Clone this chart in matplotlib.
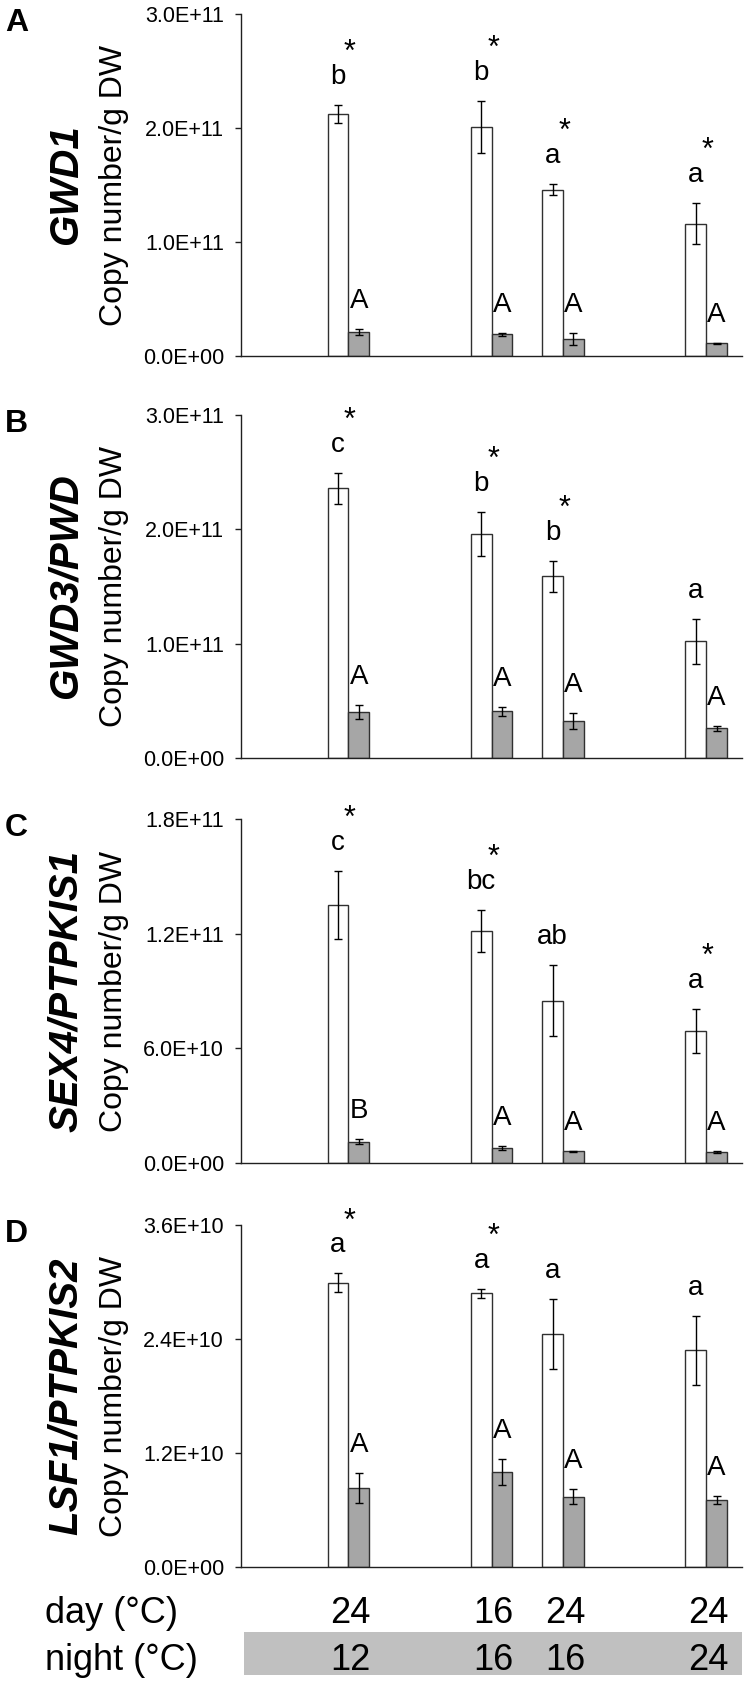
import matplotlib
matplotlib.use('Agg')
import matplotlib.pyplot as plt
import numpy as np

plt.rcParams['font.family'] = ['Liberation Sans', 'DejaVu Sans']

# %%
# data
positions = [1, 3, 4, 6]          # category slots on a 7-slot axis
day_temp = ['24', '16', '24', '24']
night_temp = ['12', '16', '16', '24']

genes = ['GWD1', 'GWD3/PWD', 'SEX4/PTPKIS1', 'LSF1/PTPKIS2']
panel_ids = ['A', 'B', 'C', 'D']
ymax = [3.0e11, 3.0e11, 1.8e11, 3.6e10]
ystep = [1.0e11, 1.0e11, 6.0e10, 1.2e10]

gwd1_open = [2.12e11, 2.01e11, 1.46e11, 1.16e11]
gwd1_open_err = [0.08e11, 0.23e11, 0.05e11, 0.18e11]
gwd1_fill = [0.21e11, 0.19e11, 0.15e11, 0.11e11]
gwd1_fill_err = [0.025e11, 0.015e11, 0.055e11, 0.005e11]

gwd3_open = [2.36e11, 1.96e11, 1.59e11, 1.02e11]
gwd3_open_err = [0.135e11, 0.19e11, 0.135e11, 0.195e11]
gwd3_fill = [0.40e11, 0.41e11, 0.32e11, 0.26e11]
gwd3_fill_err = [0.062e11, 0.04e11, 0.07e11, 0.02e11]

sex4_open = [1.35e11, 1.215e11, 0.85e11, 0.69e11]
sex4_open_err = [0.18e11, 0.11e11, 0.187e11, 0.117e11]
sex4_fill = [0.11e11, 0.08e11, 0.061e11, 0.056e11]
sex4_fill_err = [0.013e11, 0.01e11, 0.003e11, 0.006e11]

lsf1_open = [2.99e10, 2.88e10, 2.45e10, 2.28e10]
lsf1_open_err = [0.10e10, 0.045e10, 0.37e10, 0.36e10]
lsf1_fill = [0.83e10, 1.00e10, 0.74e10, 0.705e10]
lsf1_fill_err = [0.16e10, 0.14e10, 0.08e10, 0.045e10]

open_letters = [['b', 'b', 'a', 'a'], ['c', 'b', 'b', 'a'],
                ['c', 'bc', 'ab', 'a'], ['a', 'a', 'a', 'a']]
fill_letters = [['A', 'A', 'A', 'A'], ['A', 'A', 'A', 'A'],
                ['B', 'A', 'A', 'A'], ['A', 'A', 'A', 'A']]
stars = [[1, 1, 1, 1], [1, 1, 1, 0], [1, 1, 0, 1], [1, 1, 0, 0]]

opens = [gwd1_open, gwd3_open, sex4_open, lsf1_open]
open_errs = [gwd1_open_err, gwd3_open_err, sex4_open_err, lsf1_open_err]
fills = [gwd1_fill, gwd3_fill, sex4_fill, lsf1_fill]
fill_errs = [gwd1_fill_err, gwd3_fill_err, sex4_fill_err, lsf1_fill_err]

# %%
W, H = 747, 1682
fig = plt.figure(figsize=(W / 100, H / 100), dpi=100)
PT = 0.72   # pixels -> points at 100 dpi

ax_left, ax_right = 241, 742
tops = [14, 415, 819, 1225]
bottoms = [356, 758, 1163, 1567]
bw = 0.29

def fx(px):
    return px / W

def fy(px):
    return 1 - px / H

err_kw = dict(ecolor='black', elinewidth=1.0, capsize=3, capthick=1.0)

for i in range(4):
    ax = fig.add_axes([fx(ax_left), fy(bottoms[i]), fx(ax_right - ax_left),
                       (bottoms[i] - tops[i]) / H])
    x = np.array(positions, dtype=float)
    ax.bar(x - bw / 2, opens[i], bw, yerr=open_errs[i], color='white',
           edgecolor='#303030', linewidth=1.0, error_kw=err_kw, zorder=2)
    ax.bar(x + bw / 2, fills[i], bw, yerr=fill_errs[i], color='#a6a6a6',
           edgecolor='#303030', linewidth=1.0, error_kw=err_kw, zorder=2)

    for j in range(4):
        top_o = opens[i][j] + open_errs[i][j]
        ax.annotate(open_letters[i][j], (x[j] - bw / 2, top_o),
                    xytext=(0, 21 * PT), textcoords='offset points',
                    ha='center', va='baseline', fontsize=20)
        if stars[i][j]:
            ax.annotate('*', (x[j] - bw / 2, top_o),
                        xytext=(12 * PT, 44 * PT), textcoords='offset points',
                        ha='center', va='baseline', fontsize=22)
        top_f = fills[i][j] + fill_errs[i][j]
        ax.annotate(fill_letters[i][j], (x[j] + bw / 2, top_f),
                    xytext=(0, 21 * PT), textcoords='offset points',
                    ha='center', va='baseline', fontsize=20)

    ax.set_xlim(-0.5, 6.5)
    ax.set_ylim(0, ymax[i])
    ax.set_yticks(np.arange(0, ymax[i] + ystep[i] / 2, ystep[i]))
    ax.set_yticklabels([f'{v:.1E}' for v in ax.get_yticks()])
    ax.set_xticks([])
    for s in ['top', 'right']:
        ax.spines[s].set_visible(False)
    for s in ['left', 'bottom']:
        ax.spines[s].set_linewidth(1.0)
        ax.spines[s].set_color('#202020')
    ax.tick_params(axis='y', direction='out', length=6 * PT, width=1.0,
                   color='#202020', pad=8, labelsize=15.5)

    yc = fy((tops[i] + bottoms[i]) / 2)
    fig.text(fx(114), yc, 'Copy number/g DW', rotation=90, ha='center',
             va='center', fontsize=23)
    fig.text(fx(66), yc, genes[i], rotation=90, ha='center', va='center',
             fontsize=29, fontweight='bold', fontstyle='italic')
    fig.text(fx(5), fy(tops[i] - 6), panel_ids[i], ha='left', va='top',
             fontsize=23, fontweight='bold')

# temperature table under the panels
tab = fig.add_axes([fx(ax_left), fy(1675), fx(ax_right - ax_left), 90 / H])
tab.set_xlim(-0.5, 6.5)
tab.set_ylim(0, 90)
tab.axis('off')
tab.axhspan(0, 43, xmin=3 / (ax_right - ax_left), xmax=1, color='#c0c0c0',
            lw=0, zorder=0)
for j, p in enumerate(positions):
    tab.text(p + 0.03, 52.3, day_temp[j], ha='center', va='baseline', fontsize=26)
    tab.text(p + 0.03, 5, night_temp[j], ha='center', va='baseline', fontsize=26)
fig.text(fx(45), fy(1622.7), 'day (°C)', ha='left', va='baseline', fontsize=26)
fig.text(fx(45), fy(1670), 'night (°C)', ha='left', va='baseline', fontsize=26)

fig.savefig('out.png', dpi=100)
